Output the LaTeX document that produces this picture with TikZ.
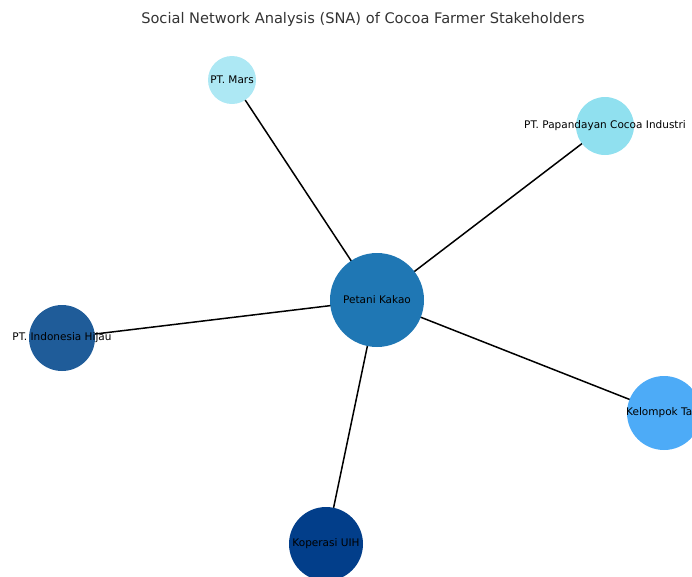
\documentclass[tikz,border=0pt]{standalone}
\usepackage{fontspec}
\setmainfont{DejaVu Sans}
\usepackage{tikz}
\usetikzlibrary{backgrounds}
\definecolor{cPetani}{HTML}{1F77B4}
\definecolor{cMars}{HTML}{ADE8F4}
\definecolor{cPapan}{HTML}{90E0EF}
\definecolor{cHijau}{HTML}{1F5C99}
\definecolor{cKoperasi}{HTML}{023E8A}
\definecolor{cTani}{HTML}{4DABF7}
\definecolor{cTitle}{HTML}{333333}

\begin{document}
\begin{tikzpicture}[x=1pt,y=-1pt,
  actor/.style={circle,inner sep=0pt,
    label={[text=black,font=\fontsize{10.5}{12}\selectfont]center:#1}},
  link/.style={line width=1.5pt,black}]
\useasboundingbox (0,0) rectangle (692,576);
\clip (0,0) rectangle (692,576);

\node[font=\fontsize{14.6}{17}\selectfont,text=cTitle] (title) at (363,19) {Social Network Analysis (SNA) of Cocoa Farmer Stakeholders};

\node[actor=Petani Kakao,fill=cPetani,minimum size=94pt] (petani) at (377,300) {};
\node[actor=PT. Mars,fill=cMars,minimum size=48pt] (mars) at (232,80) {};
\node[actor=PT. Papandayan Cocoa Industri,fill=cPapan,minimum size=58pt] (papan) at (605,126) {};
\node[actor=PT. Indonesia Hijau,fill=cHijau,minimum size=66pt] (hijau) at (62,338) {};
\node[actor=Koperasi UIH,fill=cKoperasi,minimum size=74pt] (koperasi) at (326,544) {};
\node[actor=Kelompok Tani,fill=cTani,minimum size=74pt] (tani) at (664,413) {};

\begin{scope}[on background layer]
\draw[link] (petani.center) -- (mars.center);
\draw[link] (petani.center) -- (papan.center);
\draw[link] (petani.center) -- (hijau.center);
\draw[link] (petani.center) -- (koperasi.center);
\draw[link] (petani.center) -- (tani.center);
\end{scope}
\end{tikzpicture}
\end{document}
